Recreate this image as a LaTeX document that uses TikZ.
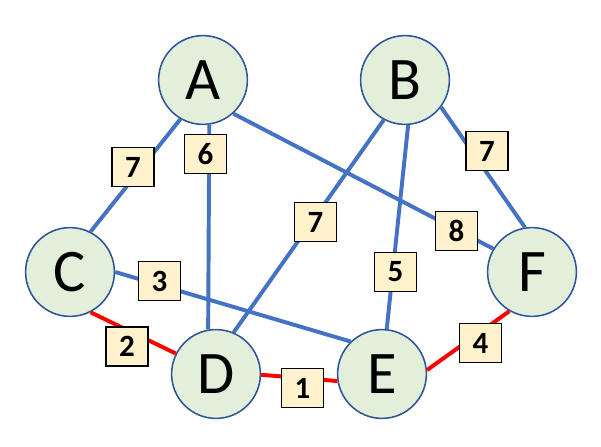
\documentclass[tikz,border=0pt]{standalone}
\usepackage{fontspec}
\setmainfont{Carlito}
\usepackage{tikz}
\usetikzlibrary{positioning}
\definecolor{vfill}{RGB}{226,239,218}
\definecolor{vline}{RGB}{47,85,151}
\definecolor{eblue}{RGB}{68,114,196}
\definecolor{wfill}{RGB}{255,242,204}

\begin{document}
\begin{tikzpicture}[x=0.025cm,y=-0.025cm,
  vertex/.style={circle,draw=vline,line width=1.1pt,fill=vfill,minimum size=2.22cm,inner sep=0pt,font=\fontsize{43}{43}\selectfont},
  wbox/.style={draw=black,line width=0.9pt,fill=wfill,minimum width=1.05cm,minimum height=0.97cm,inner sep=0pt,font=\fontsize{22}{22}\selectfont\bfseries},
  blueedge/.style={eblue,line width=2.8pt},
  rededge/.style={red,line width=2.8pt}]
  \useasboundingbox (0,0) rectangle (601,447);
  % Knoten
  \node[vertex] (A) at (203,80) {A};
  \node[vertex] (B) at (405,80) {B};
  \node[vertex] (C) at (70,272) {C};
  \node[vertex] (D) at (216,374) {D};
  \node[vertex] (E) at (382,374) {E};
  \node[vertex] (F) at (532,272) {F};
  % Kanten
  \draw[blueedge] (A.240) -- (C.63);
  \draw[blueedge] (A.-82) -- (D.100);
  \draw[blueedge] (A.-48) -- (F.149);
  \draw[blueedge] (B.242) -- (D.67);
  \draw[blueedge] (B.-86) -- (E.84);
  \draw[blueedge] (B.-37) -- (F.99);
  \draw[blueedge] (C.0) -- (E.134);
  \draw[rededge] (C.-63) -- (D.153);
  \draw[rededge] (D.-1) -- (E.189);
  \draw[rededge] (E.5) -- (F.240);
  % Gewichte
  \node[wbox] (wAC) at (133,167) {7};
  \node[wbox] (wAD) at (205.5,154) {6};
  \node[wbox] (wBD) at (315.5,222) {7};
  \node[wbox] (wAF) at (456.5,231) {8};
  \node[wbox] (wBE) at (395.5,272) {5};
  \node[wbox] (wBF) at (487,151) {7};
  \node[wbox] (wCE) at (159.5,281) {3};
  \node[wbox] (wCD) at (127,346.5) {2};
  \node[wbox] (wDE) at (302.5,388) {1};
  \node[wbox] (wEF) at (480.5,343) {4};
\end{tikzpicture}
\end{document}
